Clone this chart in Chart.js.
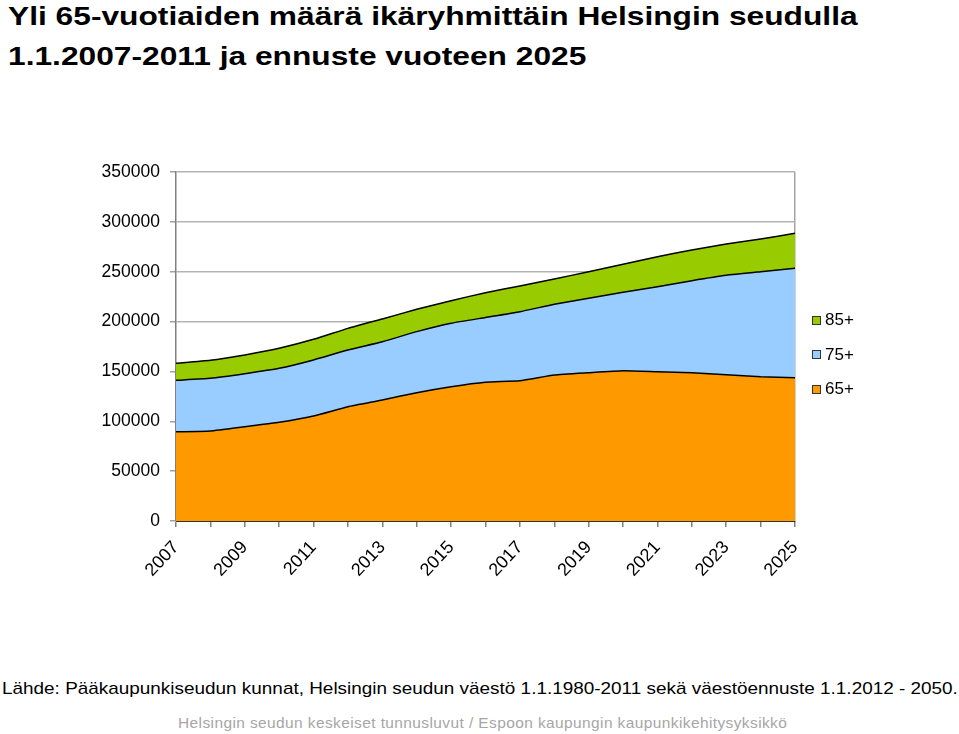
<!DOCTYPE html>
<html>
<head>
<meta charset="utf-8">
<script src="https://cdn.jsdelivr.net/npm/chart.js@4/dist/chart.umd.min.js"></script>
<style>
  html, body { margin: 0; padding: 0; background: #fff; }
  body { width: 959px; height: 734px; position: relative; overflow: hidden; font-family: "Liberation Sans", Arial, sans-serif; }
  #title { position: absolute; left: 8px; top: -4px; font-size: 26px; font-weight: bold; line-height: 40px; color: #000; transform: scaleX(1.22); transform-origin: 0 0; white-space: nowrap; }
  #wrap { position: absolute; left: 0; top: 140px; width: 959px; height: 470px; }
  #legend { position: absolute; left: 812px; top: 303px; font-size: 17px; color: #000; }
  .li { height: 34.5px; display: flex; align-items: center; }
  .sw { width: 9px; height: 9px; border: 1px solid #333; margin-right: 4px; box-sizing: border-box; }
  #source { position: absolute; left: 2px; top: 679px; font-size: 17px; color: #000; white-space: nowrap; transform: scaleX(1.113); transform-origin: 0 0; }
  #footer { position: absolute; left: 178px; top: 714px; font-size: 15px; color: #a6a6a6; letter-spacing: 0.4px; white-space: nowrap; transform: scaleX(1.03); transform-origin: 0 0; }
</style>
</head>
<body>
<div id="title">Yli 65-vuotiaiden määrä ikäryhmittäin Helsingin seudulla<br>1.1.2007-2011 ja ennuste vuoteen 2025</div>
<div id="wrap"><canvas id="c" width="959" height="470"></canvas></div>
<div id="legend"></div>
<div id="source">Lähde: Pääkaupunkiseudun kunnat, Helsingin seudun väestö 1.1.1980-2011 sekä väestöennuste 1.1.2012 - 2050.</div>
<div id="footer">Helsingin seudun keskeiset tunnusluvut / Espoon kaupungin kaupunkikehitysyksikkö</div>
<script>
const years = ['2007','2008','2009','2010','2011','2012','2013','2014','2015','2016','2017','2018','2019','2020','2021','2022','2023','2024','2025'];
const age65 = [89500, 90300, 94600, 99000, 105300, 114600, 121300, 128700, 134700, 139200, 140700, 146400, 148700, 150700, 149700, 148700, 146700, 144700, 143700];
const age75 = [51600, 52800, 53100, 54100, 56200, 56900, 58500, 61200, 63600, 64900, 69200, 70900, 74600, 78600, 85300, 92300, 99700, 105300, 109700];
const age85 = [17100, 18000, 18800, 20100, 20700, 21700, 22800, 22400, 22600, 24900, 25800, 25400, 26700, 28100, 30100, 30800, 31400, 32800, 35100];
const seriesNames = ['65+', '75+', '85+'];
const seriesColors = ['#FF9900', '#99CCFF', '#99CC00'];
const yTicks = [0, 50000, 100000, 150000, 200000, 250000, 300000, 350000];

const values = [age65, age75, age85];
const datasets = values.map((d, i) => ({
  label: seriesNames[i],
  data: d,
  backgroundColor: seriesColors[i],
  borderColor: '#000',
  borderWidth: 1.5,
  pointRadius: 0,
  tension: 0.15,
  fill: i === 0 ? 'origin' : '-1'
}));

// legend (reverse order, as in reference)
const lg = document.getElementById('legend');
for (let i = seriesNames.length - 1; i >= 0; i--) {
  const row = document.createElement('div');
  row.className = 'li';
  row.innerHTML = '<span class="sw" style="background:' + seriesColors[i] + '"></span><span>' + seriesNames[i] + '</span>';
  lg.appendChild(row);
}

Chart.defaults.font.family = '"Liberation Sans", Arial, sans-serif';
Chart.defaults.color = '#000';

new Chart(document.getElementById('c'), {
  type: 'line',
  data: { labels: years, datasets: datasets },
  options: {
    responsive: false,
    animation: false,
    layout: { padding: { top: 32, right: 164, bottom: 0, left: 0 } },
    plugins: { legend: { display: false }, tooltip: { enabled: false } },
    scales: {
      x: {
        offset: false,
        afterFit: s => { s.height = 89; },
        border: { display: true, color: '#333', width: 1 },
        grid: {
          drawOnChartArea: true,
          color: ctx => (ctx.index === years.length - 1 ? '#a6a6a6' : 'rgba(0,0,0,0)'),
          tickColor: '#808080',
          tickLength: 6,
          lineWidth: 1.5
        },
        ticks: {
          autoSkip: false,
          maxRotation: 47,
          minRotation: 47,
          padding: 10,
          font: { size: 18 },
          callback: (v, i) => (i % 2 === 0 ? years[i] : '')
        }
      },
      y: {
        stacked: true,
        min: 0,
        max: 350000,
        afterFit: s => { s.width = 176; },
        afterBuildTicks: s => { s.ticks = yTicks.map(v => ({ value: v })); },
        border: { display: true, color: '#808080', width: 1.5 },
        grid: { color: '#b3b3b3', lineWidth: 1.5, tickLength: 6, tickColor: '#a0a0a0' },
        ticks: {
          padding: 10,
          font: { size: 17.5 },
          callback: v => String(v)
        }
      }
    }
  }
});
</script>
</body>
</html>
